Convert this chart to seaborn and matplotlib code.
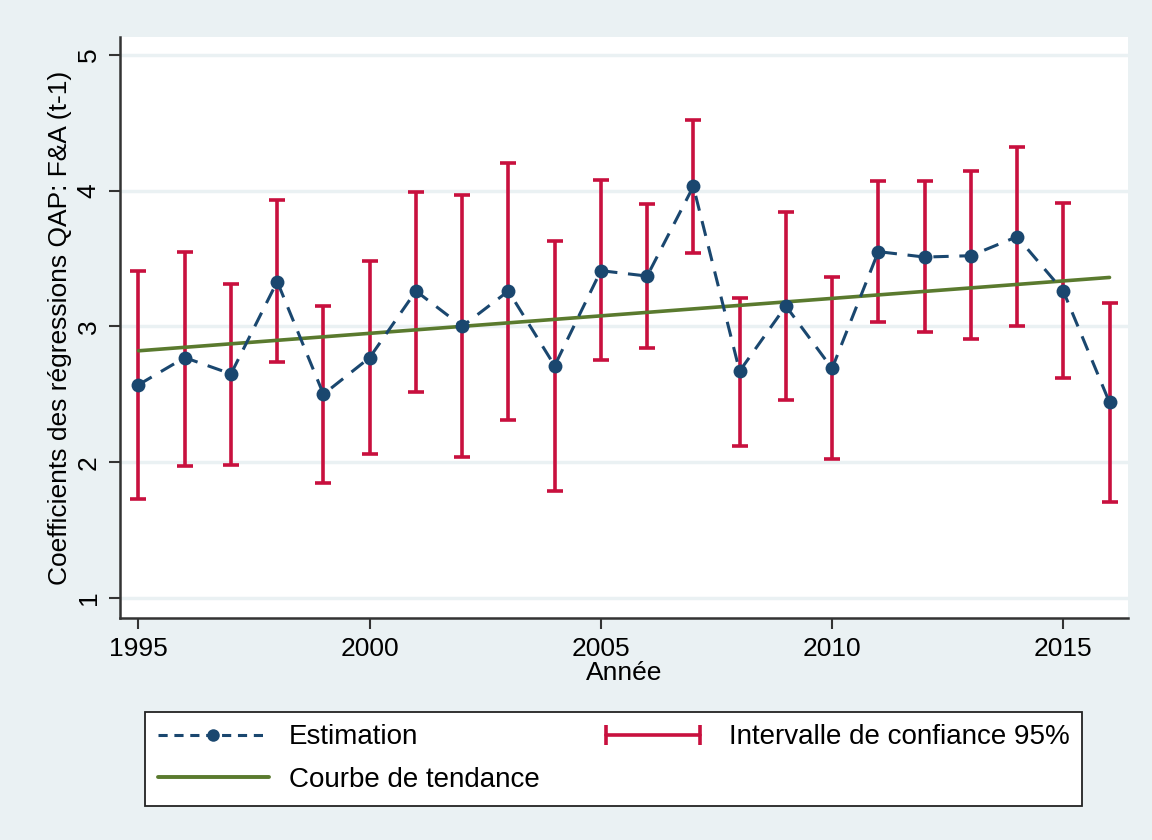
import matplotlib
matplotlib.use("Agg")
import matplotlib.pyplot as plt
from matplotlib.lines import Line2D
from matplotlib.legend_handler import HandlerLine2D
import seaborn as sns
import pandas as pd

years = [1995, 1996, 1997, 1998, 1999, 2000, 2001, 2002, 2003, 2004, 2005,
         2006, 2007, 2008, 2009, 2010, 2011, 2012, 2013, 2014, 2015, 2016]
estimation = [2.57, 2.77, 2.65, 3.33, 2.50, 2.77, 3.26, 3.00, 3.26, 2.71, 3.41,
              3.37, 4.03, 2.67, 3.15, 2.69, 3.55, 3.51, 3.52, 3.66, 3.26, 2.44]
ci_low = [1.73, 1.97, 1.98, 2.74, 1.85, 2.06, 2.52, 2.04, 2.31, 1.79, 2.75,
          2.84, 3.54, 2.12, 2.46, 2.02, 3.03, 2.96, 2.91, 3.00, 2.62, 1.71]
ci_high = [3.41, 3.55, 3.31, 3.93, 3.15, 3.48, 3.99, 3.97, 4.20, 3.63, 4.08,
           3.90, 4.52, 3.21, 3.84, 3.36, 4.07, 4.07, 4.14, 4.32, 3.91, 3.17]
trend_years = [1995, 2016]
trend_values = [2.82, 3.36]
x_ticks = [1995, 2000, 2005, 2010, 2015]
y_ticks = [1, 2, 3, 4, 5]

navy = "#1A476F"
red = "#C8103E"
green = "#5A7A2E"
bg = "#EAF1F3"
FS = 19
LFS = 20

df = pd.DataFrame({"year": years, "est": estimation, "lo": ci_low, "hi": ci_high})
df_trend = pd.DataFrame({"year": trend_years, "trend": trend_values})

sns.set_style("white")
plt.rcParams["font.family"] = ["Liberation Sans", "DejaVu Sans"]
plt.rcParams["text.color"] = "black"
plt.rcParams["axes.labelcolor"] = "black"
plt.rcParams["xtick.labelcolor"] = "black"
plt.rcParams["ytick.labelcolor"] = "black"

W, H = 1152, 840
fig = plt.figure(figsize=(W / 100, H / 100), dpi=100, facecolor=bg)
ax = fig.add_axes([120 / W, 1 - 618 / H, (1128 - 120) / W, (618 - 37) / H])
ax.set_facecolor("white")

for yv in y_ticks:
    ax.axhline(yv, color=bg, lw=2.5, zorder=0)

ax.errorbar(df["year"], (df["lo"] + df["hi"]) / 2,
            yerr=(df["hi"] - df["lo"]) / 2, fmt="none",
            ecolor=red, elinewidth=2.6, capsize=5.5, capthick=2.6, zorder=2)

sns.lineplot(data=df_trend, x="year", y="trend", color=green, lw=2.6, ax=ax,
             zorder=3, legend=False)

sns.lineplot(data=df, x="year", y="est", color=navy, lw=2.2, ax=ax,
             linestyle=(0, (5, 3.5)), marker="o", markersize=10,
             markeredgewidth=0, zorder=4, legend=False)

ax.set_xlim(1994.6, 2016.4)
ax.set_ylim(0.853, 5.13)
ax.set_xticks(x_ticks)
ax.set_xticklabels([str(v) for v in x_ticks])
ax.set_yticks(y_ticks)
ax.set_yticklabels([str(v) for v in y_ticks], rotation=90, va="center")
ax.tick_params(axis="both", which="both", direction="out", length=8, width=1.5,
               color="#333333", labelsize=FS, pad=6, left=True, bottom=True,
               labelcolor="black")
for s in ["top", "right"]:
    ax.spines[s].set_visible(False)
for s in ["left", "bottom"]:
    ax.spines[s].set_color("#333333")
    ax.spines[s].set_linewidth(1.8)

ax.set_xlabel("Année", fontsize=FS, labelpad=0, color="black")
ax.set_ylabel("Coefficients des régressions QAP: F&A (t-1)", fontsize=FS, labelpad=3,
              color="black")

h_est = Line2D([], [], color=navy, lw=2.2, linestyle=(0, (3, 2.2)), marker="o",
               markersize=9, markeredgewidth=0)
h_ci = Line2D([], [], color=red, lw=2.6, marker="|", markersize=14, markeredgewidth=2.6)
h_tr = Line2D([], [], color=green, lw=2.8)

leg = fig.legend([h_est, h_tr, h_ci],
                 ["Estimation", "Courbe de tendance", "Intervalle de confiance 95%"],
                 loc="upper left", bbox_to_anchor=(145 / W, 1 - 712 / H),
                 ncol=2, fontsize=LFS, frameon=True, fancybox=False,
                 edgecolor="#222222", facecolor="white", framealpha=1,
                 handlelength=4.0, handletextpad=0.72, borderpad=0.45, borderaxespad=0,
                 labelspacing=0.6, columnspacing=2.1,
                 handler_map={h_ci: HandlerLine2D(numpoints=2)})
leg.get_frame().set_linewidth(1.3)
for t in leg.get_texts():
    t.set_color("black")

fig.savefig("out.png", dpi=100, facecolor=bg)
